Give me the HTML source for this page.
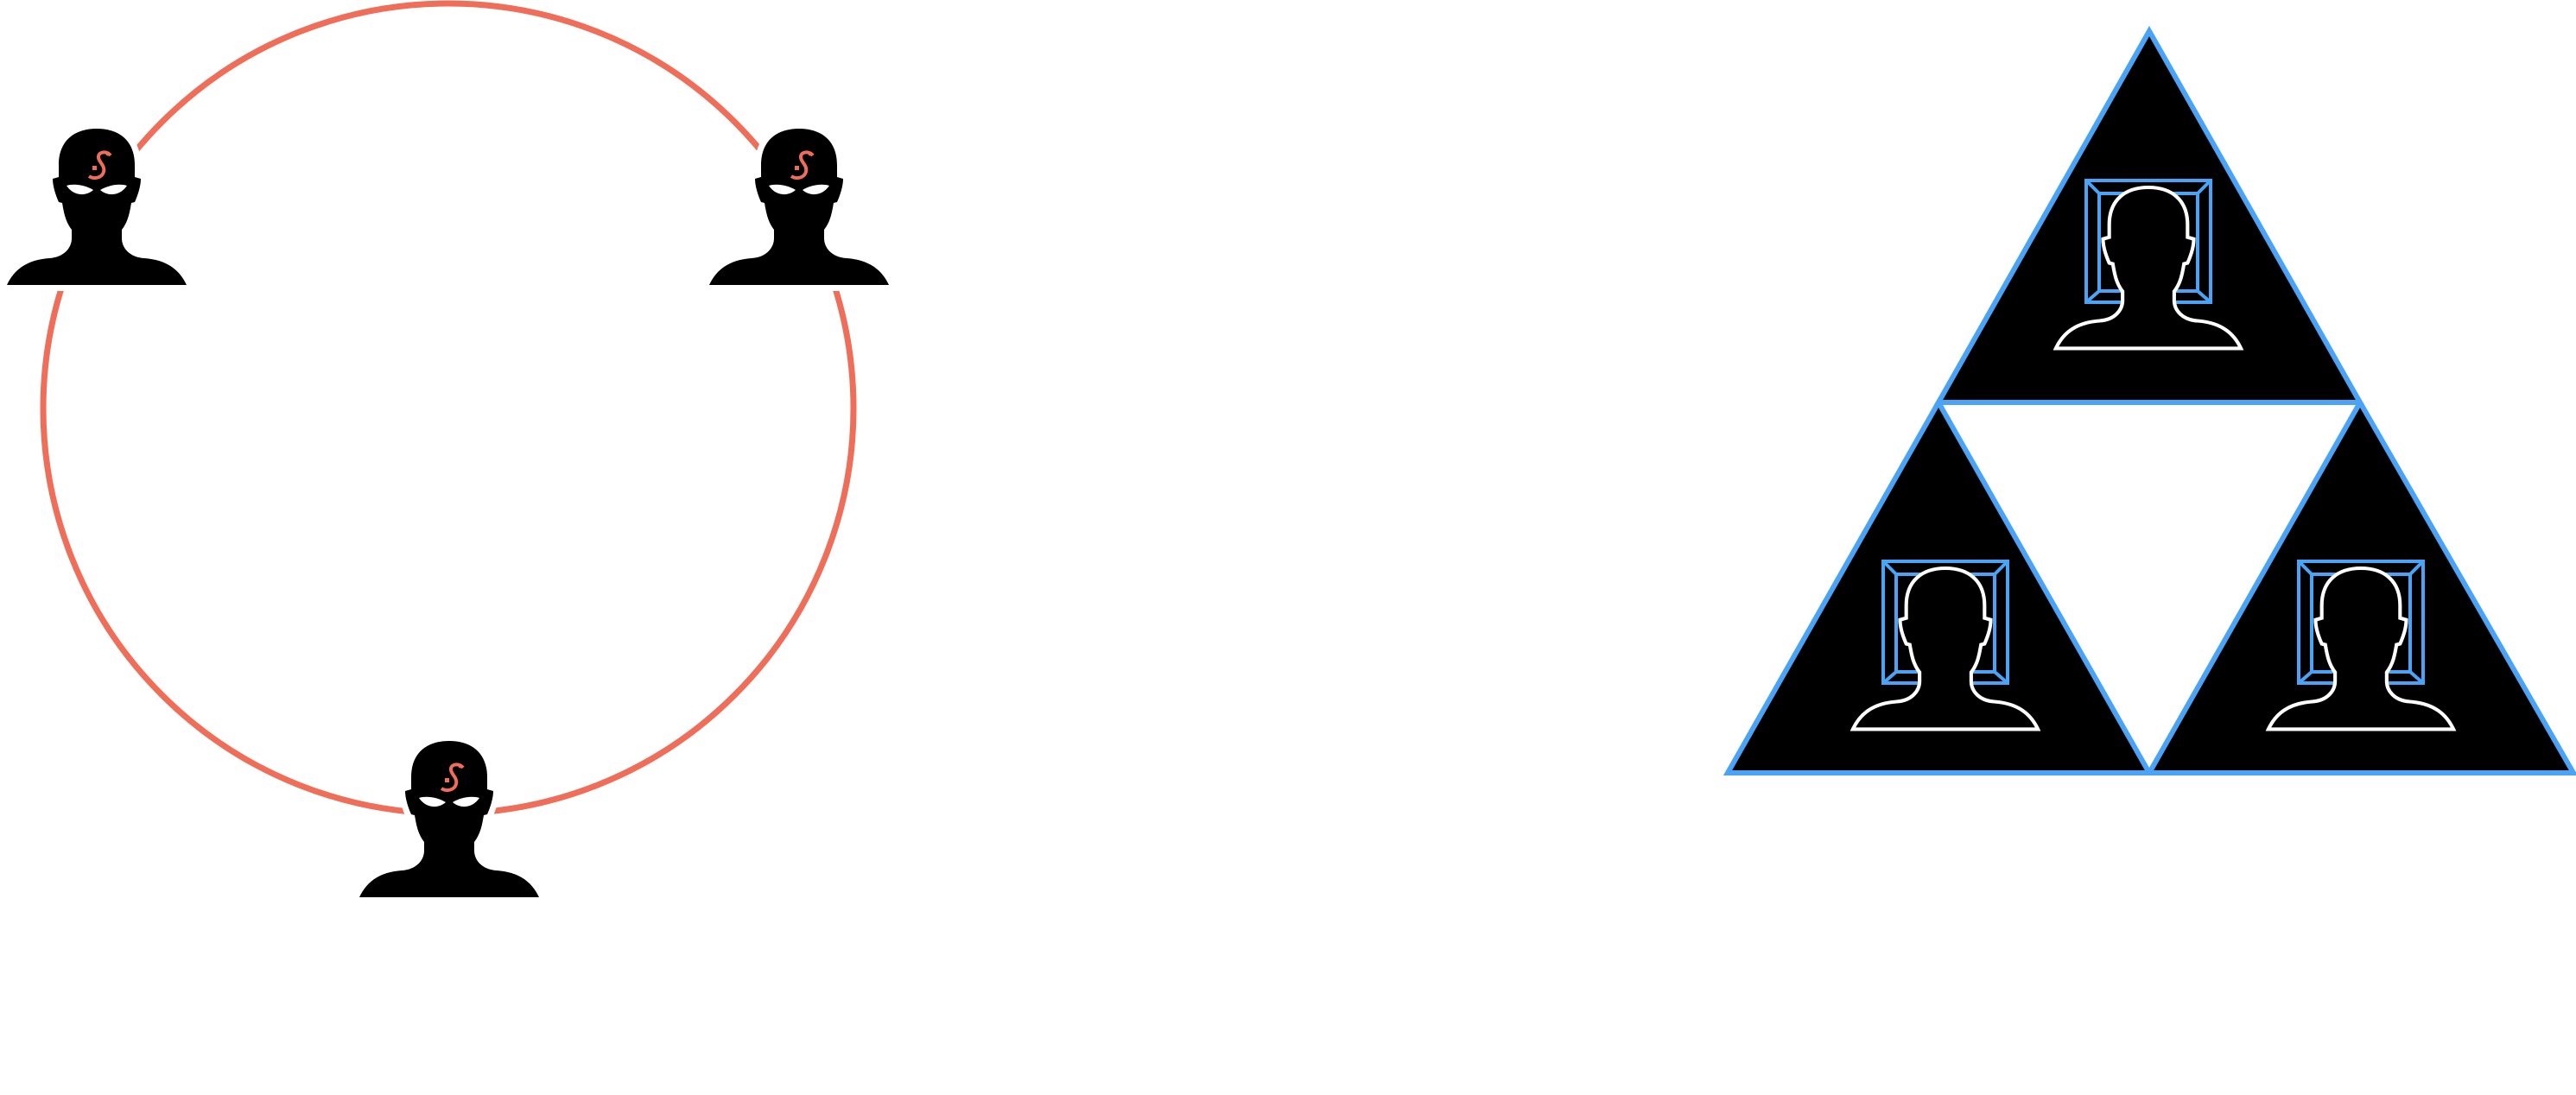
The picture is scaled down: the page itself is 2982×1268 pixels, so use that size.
<!DOCTYPE html>
<html><head><meta charset="utf-8"><style>html,body{margin:0;padding:0;background:#fff}svg{display:block}</style></head>
<body>
<svg width="2982" height="1268" viewBox="0 0 2982 1268" xmlns="http://www.w3.org/2000/svg">
<defs>
<path id="head" d="M -104,181 C -96,164 -82,152 -55,150 C -38,149 -29,138 -29,127 L -29,117 C -36,108 -38,98 -40,86 L -44,85 C -48,76 -51,66 -51,58 L -44,56 L -44,42 C -44,14 -26,0 0,0 C 26,0 44,14 44,42 L 44,56 L 51,58 C 51,66 48,76 44,85 L 40,86 C 38,98 36,108 29,117 L 29,127 C 29,138 38,149 55,150 C 82,152 96,164 104,181 Z"/>
</defs>
<g>
<circle cx="519" cy="473" r="469" fill="none" stroke="#EE6E5A" stroke-width="7"/>
<g transform="translate(112,149)">
<use href="#head" fill="#000" stroke="#fff" stroke-width="14"/><use href="#head" fill="#000"/>
<path d="M -35,66 C -25,63 -12,66 -4,71 C -12,78 -26,79 -35,66 Z M 35,66 C 25,63 12,66 4,71 C 12,78 26,79 35,66 Z" fill="#fff"/>
<path d="M 16,19 C 12,14 3,14 2,20 C 1,26 10,30 8,38 C 6,45 -3,47 -9,43" transform="translate(0,12)" fill="none" stroke="#EE6E5A" stroke-width="4"/>
<rect x="-5" y="43" width="5" height="5" fill="#EE6E5A"/><circle cx="13" cy="29" r="2.5" fill="#EE6E5A"/>
</g>
<g transform="translate(925,149)">
<use href="#head" fill="#000" stroke="#fff" stroke-width="14"/><use href="#head" fill="#000"/>
<path d="M -35,66 C -25,63 -12,66 -4,71 C -12,78 -26,79 -35,66 Z M 35,66 C 25,63 12,66 4,71 C 12,78 26,79 35,66 Z" fill="#fff"/>
<path d="M 16,19 C 12,14 3,14 2,20 C 1,26 10,30 8,38 C 6,45 -3,47 -9,43" transform="translate(0,12)" fill="none" stroke="#EE6E5A" stroke-width="4"/>
<rect x="-5" y="43" width="5" height="5" fill="#EE6E5A"/><circle cx="13" cy="29" r="2.5" fill="#EE6E5A"/>
</g>
<g transform="translate(520,858)">
<use href="#head" fill="#000" stroke="#fff" stroke-width="14"/><use href="#head" fill="#000"/>
<path d="M -35,66 C -25,63 -12,66 -4,71 C -12,78 -26,79 -35,66 Z M 35,66 C 25,63 12,66 4,71 C 12,78 26,79 35,66 Z" fill="#fff"/>
<path d="M 16,19 C 12,14 3,14 2,20 C 1,26 10,30 8,38 C 6,45 -3,47 -9,43" transform="translate(0,12)" fill="none" stroke="#EE6E5A" stroke-width="4"/>
<rect x="-5" y="43" width="5" height="5" fill="#EE6E5A"/><circle cx="13" cy="29" r="2.5" fill="#EE6E5A"/>
</g>
</g>
<g stroke="#4BA3F5" stroke-width="6" stroke-linejoin="miter">
<polygon points="2488,36 2732,466 2244,466" fill="#000"/>
<polygon points="2244,466 2488,895 2000,895" fill="#000"/>
<polygon points="2732,466 2979,895 2488,895" fill="#000"/>
</g>
<g transform="translate(2487,209)">
<g fill="none" stroke="#4BA3F5" stroke-width="4"><rect x="-72" y="0" width="144" height="141"/><rect x="-57" y="15" width="114" height="113"/><path d="M-72,0 L-57,15 M72,0 L57,15 M-72,141 L-57,128 M72,141 L57,128"/></g>
<use href="#head" transform="translate(0,8) scale(1.03)" fill="#000" stroke="#fff" stroke-width="4"/>
</g>
<g transform="translate(2252,650)">
<g fill="none" stroke="#4BA3F5" stroke-width="4"><rect x="-72" y="0" width="144" height="141"/><rect x="-57" y="15" width="114" height="113"/><path d="M-72,0 L-57,15 M72,0 L57,15 M-72,141 L-57,128 M72,141 L57,128"/></g>
<use href="#head" transform="translate(0,8) scale(1.03)" fill="#000" stroke="#fff" stroke-width="4"/>
</g>
<g transform="translate(2733,650)">
<g fill="none" stroke="#4BA3F5" stroke-width="4"><rect x="-72" y="0" width="144" height="141"/><rect x="-57" y="15" width="114" height="113"/><path d="M-72,0 L-57,15 M72,0 L57,15 M-72,141 L-57,128 M72,141 L57,128"/></g>
<use href="#head" transform="translate(0,8) scale(1.03)" fill="#000" stroke="#fff" stroke-width="4"/>
</g>
</svg>
</body></html>
